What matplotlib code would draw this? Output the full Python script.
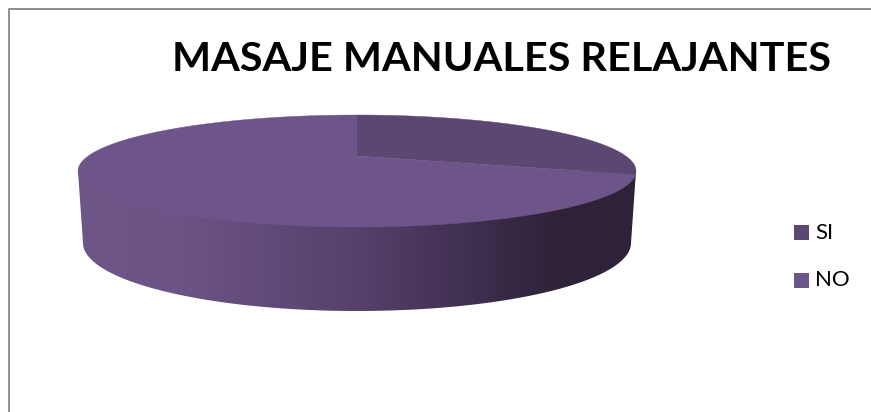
import numpy as np
import matplotlib
matplotlib.use("Agg")
import matplotlib.pyplot as plt
from matplotlib.patches import Polygon, Rectangle
from matplotlib.colors import LinearSegmentedColormap

title = "MASAJE MANUALES RELAJANTES"
labels = ["SI", "NO"]
values = [26, 74]
colors = ["#5c4672", "#6e5589"]

W, H = 871, 412
fig = plt.figure(figsize=(W/100, H/100), dpi=100, facecolor="white")
ax = fig.add_axes([0, 0, 1, 1])
ax.set_xlim(0, W); ax.set_ylim(H, 0); ax.axis("off")

# frame (left and top edges inset)
ax.plot([8.5, 8.5, W], [H, 8.5, 8.5], color="#868686", lw=1.3)

cx, cy, a, b = 357, 171, 279, 56      # top ellipse
apex_y = 156
bx, by, ba, bb = 357, 243, 274, 68    # lower edge of the side wall

def rim(theta):
    return cx + a*np.sin(theta), cy - b*np.cos(theta)

# side wall with a horizontal gradient
t = np.linspace(-np.pi/2, np.pi/2, 200)
lower = np.c_[bx + ba*np.sin(t), by + bb*np.cos(t)]
side = Polygon(np.r_[[[cx-a, cy], [cx, cy], [cx+a, cy]], lower[::-1]], closed=True, fc="none", ec="none")
ax.add_patch(side)
cmap = LinearSegmentedColormap.from_list("side", [
    (0.0, "#6f5689"), (0.17, "#6d5487"), (0.5, "#55416c"),
    (0.86, "#2e2239"), (1.0, "#2e2239")])
im = ax.imshow(np.linspace(0, 1, 256)[None, :], cmap=cmap, aspect="auto",
               extent=[cx-a, cx+a, 320, 150], zorder=1)
im.set_clip_path(side)
ax.set_xlim(0, W); ax.set_ylim(H, 0)

# top face, slices drawn from the values
frac = np.cumsum([0] + values) / sum(values)
for i in range(len(values)):
    th = np.linspace(frac[i], frac[i+1], 200) * 2*np.pi
    x, y = rim(th)
    ax.add_patch(Polygon(np.c_[np.r_[cx, x], np.r_[apex_y, y]], closed=True,
                         fc=colors[i], ec=colors[i], lw=0.3, zorder=2))

ax.text(501, 59, title, family="Lato", weight="bold", fontsize=29.8,
        ha="center", va="center", color="black", zorder=3)

for lab, col, yy in zip(labels, colors, [232.5, 280.5]):
    ax.add_patch(Rectangle((794, yy-7.5), 15, 15, fc=col, ec="none"))
    ax.text(815, yy, lab, family="Lato", fontsize=16, va="center", color="black")

fig.savefig("out.png", dpi=100)
